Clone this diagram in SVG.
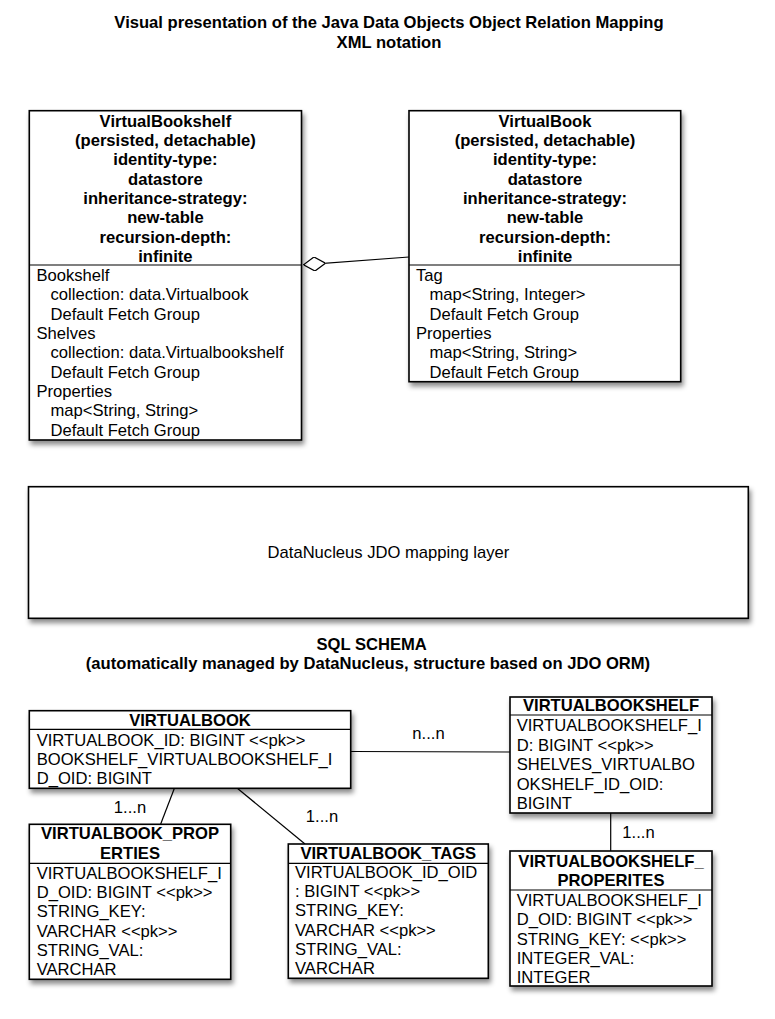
<svg xmlns="http://www.w3.org/2000/svg" width="775" height="1019" viewBox="0 0 775 1019">
<style>
text{font-family:"Liberation Sans",Arial,Helvetica,sans-serif;font-size:16.6px;fill:#000}
.b{font-weight:bold}
.c{text-anchor:middle}
.box{fill:#fff;stroke:#000;stroke-width:1.6;filter:url(#sh)}
.div{stroke:#000;stroke-width:1.2;fill:none}
.con{stroke:#000;stroke-width:1.2;fill:none}
</style>
<defs>
<filter id="sh" x="-10%" y="-10%" width="125%" height="130%">
<feDropShadow dx="2" dy="4" stdDeviation="2.5" flood-color="#000" flood-opacity="0.45"/>
</filter>
<marker id="diamond" viewBox="0 0 22 14" refX="22" refY="7" markerWidth="22" markerHeight="14" markerUnits="userSpaceOnUse" orient="auto">
<polygon points="0,7 11,0 22,7 11,14" fill="#fff" stroke="#000" stroke-width="1.2"/>
</marker>
</defs>
<rect width="775" height="1019" fill="#fff"/>

<g id="title">
<text class="b c" x="389" y="28">Visual presentation of the Java Data Objects Object Relation Mapping</text>
<text class="b c" x="389" y="47.5">XML notation</text>
</g>

<g id="connectors">
<path class="con" d="M409,257 L303.5,264.8" marker-end="url(#diamond)"/>
<line class="con" x1="174.5" y1="788" x2="160.5" y2="824.5"/>
<line class="con" x1="237" y1="788" x2="305" y2="844"/>
<line class="con" x1="351" y1="751.5" x2="510" y2="752"/>
<line class="con" x1="610.7" y1="813" x2="610.7" y2="851"/>
<text class="c" x="130" y="812.5">1...n</text>
<text class="c" x="322" y="822">1...n</text>
<text class="c" x="428.5" y="739">n...n</text>
<text class="c" x="638.5" y="837.5">1...n</text>
</g>

<g id="VirtualBookshelf">
<rect class="box" x="29.3" y="110.7" width="272.2" height="329.3"/>
<line class="div" x1="29.3" y1="265" x2="301.5" y2="265"/>
<text class="b c" x="165.4" y="126.7">VirtualBookshelf</text>
<text class="b c" x="165.4" y="146">(persisted, detachable)</text>
<text class="b c" x="165.4" y="165.3">identity-type:</text>
<text class="b c" x="165.4" y="184.7">datastore</text>
<text class="b c" x="165.4" y="204">inheritance-strategy:</text>
<text class="b c" x="165.4" y="223.3">new-table</text>
<text class="b c" x="165.4" y="242.7">recursion-depth:</text>
<text class="b c" x="165.4" y="262">infinite</text>
<text x="36.5" y="281">Bookshelf</text>
<text x="50.5" y="300.3">collection: data.Virtualbook</text>
<text x="50.5" y="319.7">Default Fetch Group</text>
<text x="36.5" y="339">Shelves</text>
<text x="50.5" y="358.3">collection: data.Virtualbookshelf</text>
<text x="50.5" y="377.7">Default Fetch Group</text>
<text x="36.5" y="397">Properties</text>
<text x="50.5" y="416.3">map&lt;String, String&gt;</text>
<text x="50.5" y="435.7">Default Fetch Group</text>
</g>

<g id="VirtualBook">
<rect class="box" x="409" y="110.7" width="271.7" height="271"/>
<line class="div" x1="409" y1="265" x2="680.7" y2="265"/>
<text class="b c" x="545" y="126.7">VirtualBook</text>
<text class="b c" x="545" y="146">(persisted, detachable)</text>
<text class="b c" x="545" y="165.3">identity-type:</text>
<text class="b c" x="545" y="184.7">datastore</text>
<text class="b c" x="545" y="204">inheritance-strategy:</text>
<text class="b c" x="545" y="223.3">new-table</text>
<text class="b c" x="545" y="242.7">recursion-depth:</text>
<text class="b c" x="545" y="262">infinite</text>
<text x="416" y="281">Tag</text>
<text x="429.5" y="300.3">map&lt;String, Integer&gt;</text>
<text x="429.5" y="319.7">Default Fetch Group</text>
<text x="416" y="339">Properties</text>
<text x="429.5" y="358.3">map&lt;String, String&gt;</text>
<text x="429.5" y="377.7">Default Fetch Group</text>
</g>

<g id="DataNucleusLayer">
<rect class="box" x="28.5" y="486.7" width="719.8" height="131.6"/>
<text class="c" x="388.4" y="557.7">DataNucleus JDO mapping layer</text>
</g>

<g id="sqlTitle">
<text class="b c" x="371.7" y="649.5">SQL SCHEMA</text>
<text class="b c" x="368" y="669">(automatically managed by DataNucleus, structure based on JDO ORM)</text>
</g>

<g id="VIRTUALBOOK">
<rect class="box" x="29.3" y="710.7" width="321.4" height="77.6"/>
<line class="div" x1="29.3" y1="729.3" x2="350.7" y2="729.3"/>
<text class="b c" x="190" y="726">VIRTUALBOOK</text>
<text x="36.7" y="746">VIRTUALBOOK_ID: BIGINT &lt;&lt;pk&gt;&gt;</text>
<text x="36.7" y="765.3">BOOKSHELF_VIRTUALBOOKSHELF_I</text>
<text x="36.7" y="784.3">D_OID: BIGINT</text>
</g>

<g id="VIRTUALBOOK_PROPERTIES">
<rect class="box" x="29.3" y="824.3" width="201.4" height="155"/>
<line class="div" x1="29.3" y1="863.3" x2="230.7" y2="863.3"/>
<text class="b c" x="130" y="839.3">VIRTUALBOOK_PROP</text>
<text class="b c" x="130" y="859">ERTIES</text>
<text x="36.7" y="878.7">VIRTUALBOOKSHELF_I</text>
<text x="36.7" y="898">D_OID: BIGINT &lt;&lt;pk&gt;&gt;</text>
<text x="36.7" y="917.3">STRING_KEY:</text>
<text x="36.7" y="936.6">VARCHAR &lt;&lt;pk&gt;&gt;</text>
<text x="36.7" y="955.9">STRING_VAL:</text>
<text x="36.7" y="975.2">VARCHAR</text>
</g>

<g id="VIRTUALBOOK_TAGS">
<rect class="box" x="288.3" y="844" width="200" height="134.3"/>
<line class="div" x1="288.3" y1="863.3" x2="488.3" y2="863.3"/>
<text class="b c" x="388.3" y="858.7">VIRTUALBOOK_TAGS</text>
<text x="295" y="877.7">VIRTUALBOOK_ID_OID</text>
<text x="295" y="897">: BIGINT &lt;&lt;pk&gt;&gt;</text>
<text x="295" y="916.3">STRING_KEY:</text>
<text x="295" y="935.6">VARCHAR &lt;&lt;pk&gt;&gt;</text>
<text x="295" y="954.9">STRING_VAL:</text>
<text x="295" y="974.2">VARCHAR</text>
</g>

<g id="VIRTUALBOOKSHELF">
<rect class="box" x="510" y="697" width="202" height="116"/>
<line class="div" x1="510" y1="715" x2="712" y2="715"/>
<text class="b c" x="611" y="711">VIRTUALBOOKSHELF</text>
<text x="516.7" y="731">VIRTUALBOOKSHELF_I</text>
<text x="516.7" y="750.5">D: BIGINT &lt;&lt;pk&gt;&gt;</text>
<text x="516.7" y="770">SHELVES_VIRTUALBO</text>
<text x="516.7" y="789.5">OKSHELF_ID_OID:</text>
<text x="516.7" y="809">BIGINT</text>
</g>

<g id="VIRTUALBOOKSHELF_PROPERITES">
<rect class="box" x="510" y="851" width="202" height="135"/>
<line class="div" x1="510" y1="890" x2="712" y2="890"/>
<text class="b c" x="611" y="866.7">VIRTUALBOOKSHELF_</text>
<text class="b c" x="611" y="885.5">PROPERITES</text>
<text x="516.7" y="906">VIRTUALBOOKSHELF_I</text>
<text x="516.7" y="925.3">D_OID: BIGINT &lt;&lt;pk&gt;&gt;</text>
<text x="516.7" y="944.6">STRING_KEY: &lt;&lt;pk&gt;&gt;</text>
<text x="516.7" y="963.9">INTEGER_VAL:</text>
<text x="516.7" y="983.2">INTEGER</text>
</g>
</svg>
